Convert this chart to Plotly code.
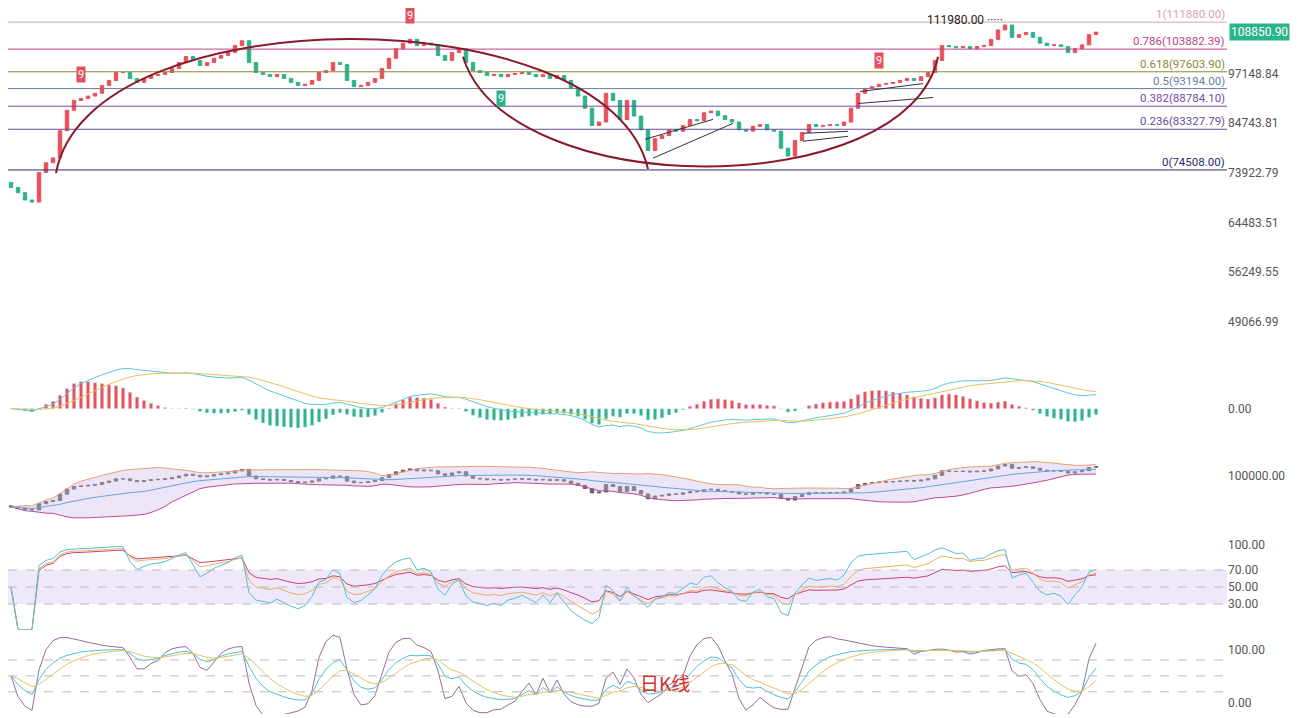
import numpy as np
import pandas as pd
import plotly.graph_objects as go

# daily closes (one candle per day)
closes = [71000, 70000, 68600, 68200, 74000, 76000, 77000, 83000, 87800, 90200,
          90700, 91300, 92000, 94000, 95300, 97400, 97400, 95800, 94800, 95800,
          96600, 96900, 97400, 98500, 100100, 101800, 100700, 99300, 100100, 101300,
          102100, 102900, 104900, 106300, 100100, 97400, 96900, 96300, 96900, 95800,
          94800, 94000, 94300, 95300, 97400, 97900, 100100, 99600, 95300, 93700,
          94000, 94800, 95800, 98500, 101300, 104000, 105600, 106700, 104900, 105600,
          105100, 102100, 100700, 102900, 104000, 100100, 97900, 97400, 96600, 96900,
          96300, 96900, 97100, 97400, 96900, 96300, 96900, 95800, 96600, 95300,
          93200, 91300, 88300, 84200, 85000, 92000, 90200, 85600, 90200, 86400,
          83200, 78600, 81200, 81900, 83200, 82900, 84200, 85600, 85300, 87200,
          87600, 86500, 85600, 85000, 83200, 82900, 84000, 84400, 83200, 82900,
          79100, 77400, 80800, 82600, 84400, 84000, 84200, 84400, 84200, 85000,
          88300, 92000, 93200, 93700, 94300, 94500, 94800, 95300, 95800, 95300,
          96300, 97400, 100700, 104900, 104600, 104300, 104600, 104000, 104600, 104900,
          106700, 109500, 111000, 107300, 108100, 108700, 107300, 105600, 104900, 105100,
          104600, 102900, 104000, 105100, 108100, 108850]
first_open = 72000

fib_levels = ["1", "0.786", "0.618", "0.5", "0.382", "0.236", "0"]
fib_prices = [111880.00, 103882.39, 97603.90, 93194.00, 88784.10, 83327.79, 74508.00]
fib_colors = ["#d9a0b8", "#c0408a", "#8a8a30", "#6a7aa0", "#7a4aa0", "#6a4a9a", "#2a2a70"]

main_ticks = [97148.84, 84743.81, 73922.79, 64483.51, 56249.55, 49066.99]

nine_up_idx = [10, 57, 124]   # red "9" markers
nine_dn_idx = [70]            # green "9" marker

UP = "#e8505b"
DOWN = "#2bb38c"
W, H = 1299, 718
PW = 1219  # plot width in px

close = pd.Series(closes, dtype=float)
opens = pd.Series([first_open] + closes[:-1], dtype=float)
x = list(range(len(closes)))

def py(p):  # pixel y -> paper y
    return 1 - p / H

def px(p):
    return p / PW

fig = go.Figure()

# main candles
fig.add_trace(go.Candlestick(
    x=x, open=opens, close=close, high=np.maximum(opens, close), low=np.minimum(opens, close),
    increasing=dict(line=dict(color=UP, width=1), fillcolor=UP),
    decreasing=dict(line=dict(color=DOWN, width=1), fillcolor=DOWN),
    whiskerwidth=0, yaxis="y", showlegend=False))

# MACD
ema12 = close.ewm(span=12, adjust=False).mean()
ema26 = close.ewm(span=26, adjust=False).mean()
dif = ema12 - ema26
dea = dif.ewm(span=9, adjust=False).mean()
hist = 2 * (dif - dea)
fig.add_trace(go.Bar(x=x, y=hist, marker_color=[UP if v >= 0 else DOWN for v in hist],
                     width=0.5, yaxis="y2", showlegend=False))
fig.add_trace(go.Scatter(x=x, y=dif, line=dict(color="#5cc8d8", width=1), yaxis="y2", showlegend=False))
fig.add_trace(go.Scatter(x=x, y=dea, line=dict(color="#e8c060", width=1), yaxis="y2", showlegend=False))

# BOLL
mid = close.rolling(20, min_periods=1).mean()
sd = close.rolling(20, min_periods=1).std().fillna(0)
upper = mid + 2 * sd
lower = mid - 2 * sd
fig.add_trace(go.Scatter(x=x, y=upper, line=dict(color="#e8a070", width=1), yaxis="y3", showlegend=False))
fig.add_trace(go.Scatter(x=x, y=lower, line=dict(color="#c04a90", width=1), fill="tonexty",
                         fillcolor="rgba(200,180,235,0.35)", yaxis="y3", showlegend=False))
fig.add_trace(go.Scatter(x=x, y=mid, line=dict(color="#60a8d8", width=1), yaxis="y3", showlegend=False))
fig.add_trace(go.Candlestick(
    x=x, open=opens, close=close, high=np.maximum(opens, close), low=np.minimum(opens, close),
    increasing=dict(line=dict(color="#666", width=1), fillcolor="#666"),
    decreasing=dict(line=dict(color="#666", width=1), fillcolor="#666"),
    yaxis="y3", showlegend=False))

# RSI
def rsi(n):
    d = close.diff().fillna(0)
    up = d.clip(lower=0).ewm(alpha=1 / n, adjust=False).mean()
    dn = (-d.clip(upper=0)).ewm(alpha=1 / n, adjust=False).mean()
    return 100 * up / (up + dn).replace(0, np.nan)

for n, c in [(24, "#d04070"), (12, "#e8b060"), (6, "#50c0d8")]:
    fig.add_trace(go.Scatter(x=x, y=rsi(n).fillna(50), line=dict(color=c, width=1),
                             yaxis="y4", showlegend=False))

# KDJ
low9 = close.rolling(9, min_periods=1).min()
high9 = close.rolling(9, min_periods=1).max()
rsv = (100 * (close - low9) / (high9 - low9).replace(0, np.nan)).fillna(50)
k = rsv.ewm(alpha=1 / 3, adjust=False).mean()
d = k.ewm(alpha=1 / 3, adjust=False).mean()
j = 3 * k - 2 * d
for s, c in [(j, "#9a6a9a"), (k, "#50c0d8"), (d, "#e8c060")]:
    fig.add_trace(go.Scatter(x=x, y=s, line=dict(color=c, width=1), yaxis="y5", showlegend=False))

shapes = []
annotations = []

# Fibonacci lines (annotations on a log axis take log10 positions)
for lv, pr, col in zip(fib_levels, fib_prices, fib_colors):
    shapes.append(dict(type="line", xref="paper", x0=0, x1=1, yref="y", y0=pr, y1=pr,
                       line=dict(color=col, width=1)))
    annotations.append(dict(xref="paper", x=1, yref="y", y=np.log10(pr), text=f"{lv}({pr:.2f})",
                            xanchor="right", yanchor="bottom", showarrow=False,
                            font=dict(size=11.5, color=col), yshift=-1))

# rounded arcs
def path(pts):
    (x0, y0), (x1, y1), (x2, y2), (x3, y3) = pts
    return (f"M {px(x0)},{py(y0)} C {px(x1)},{py(y1)} {px(x2)},{py(y2)} {px(x3)},{py(y3)}")

for pts in [[(48, 162), (80, -17), (600, -17), (640, 158)],
            [(455, 45), (500, 192), (900, 192), (930, 45)]]:
    shapes.append(dict(type="path", xref="paper", yref="paper", path=path(pts),
                       line=dict(color="#8a1a2a", width=2)))

# small channel lines
for a, b in [((645, 147), (725, 112)), ((637, 128), (705, 108)),
             ((795, 130), (840, 125)), ((795, 122), (840, 120)),
             ((850, 92), (925, 86)), ((852, 80), (915, 72))]:
    shapes.append(dict(type="line", xref="paper", yref="paper", x0=px(a[0]), y0=py(a[1]),
                       x1=px(b[0]), y1=py(b[1]), line=dict(color="#333", width=1)))

# RSI band and guide lines
shapes.append(dict(type="rect", xref="paper", x0=0, x1=1, yref="y4", y0=30, y1=70,
                   fillcolor="rgba(210,190,240,0.35)", line=dict(width=0), layer="below"))
for v in [70, 50, 30]:
    shapes.append(dict(type="line", xref="paper", x0=0, x1=1, yref="y4", y0=v, y1=v,
                       line=dict(color="#bbb", width=1, dash="dash")))
for v in [80, 50, 20]:
    shapes.append(dict(type="line", xref="paper", x0=0, x1=1, yref="y5", y0=v, y1=v,
                       line=dict(color="#bbb", width=1, dash="dash")))

# "9" markers
for i in nine_up_idx:
    annotations.append(dict(x=i, y=np.log10(closes[i]), yref="y", text="9", showarrow=False,
                            yshift=24, bgcolor="#e05060", font=dict(color="white", size=11)))
for i in nine_dn_idx:
    annotations.append(dict(x=i, y=np.log10(closes[i]), yref="y", text="9", showarrow=False,
                            yshift=-22, bgcolor="#2bb38c", font=dict(color="white", size=11)))

annotations.append(dict(x=142, y=np.log10(111980), yref="y", text="111980.00 ·····",
                        showarrow=False, xanchor="right", yshift=2,
                        font=dict(size=12, color="#222")))
annotations.append(dict(xref="paper", x=1, y=np.log10(closes[-1]), yref="y", text="108850.90",
                        showarrow=False, xanchor="left", bgcolor="#2bb38c", xshift=2,
                        font=dict(size=12, color="white")))
annotations.append(dict(xref="paper", yref="paper", x=px(657), y=py(690), text="日K线",
                        showarrow=False, font=dict(size=19, color="#d03030",
                                                   family="Noto Sans CJK SC")))

tickfont = dict(size=12, color="#555")
common = dict(anchor="x", side="right", showgrid=False, zeroline=False, tickfont=tickfont,
              ticks="", tickformat=".2f")

fig.update_layout(
    width=W, height=H, margin=dict(l=0, r=W - PW, t=0, b=0),
    paper_bgcolor="white", plot_bgcolor="white",
    font=dict(family="Roboto"),
    xaxis=dict(range=[-0.43, PW / 7 - 0.43], visible=False, rangeslider=dict(visible=False)),
    yaxis=dict(domain=[py(340), 1], type="log",
               range=[np.log10(46800 * 0.97), np.log10(118600 * 0.97)],
               tickvals=main_ticks, **common),
    yaxis2=dict(domain=[py(427), py(355)], tickvals=[0], **common),
    yaxis3=dict(domain=[py(512), py(449)], tickvals=[100000], **common),
    yaxis4=dict(domain=[py(621), py(533)], range=[0, 103], tickvals=[100, 70, 50, 30], **common),
    yaxis5=dict(domain=[py(706), py(626)], range=[-22, 128], tickvals=[100, 0], **common),
    shapes=shapes, annotations=annotations, bargap=0.5,
)

fig.write_html("out.html")
